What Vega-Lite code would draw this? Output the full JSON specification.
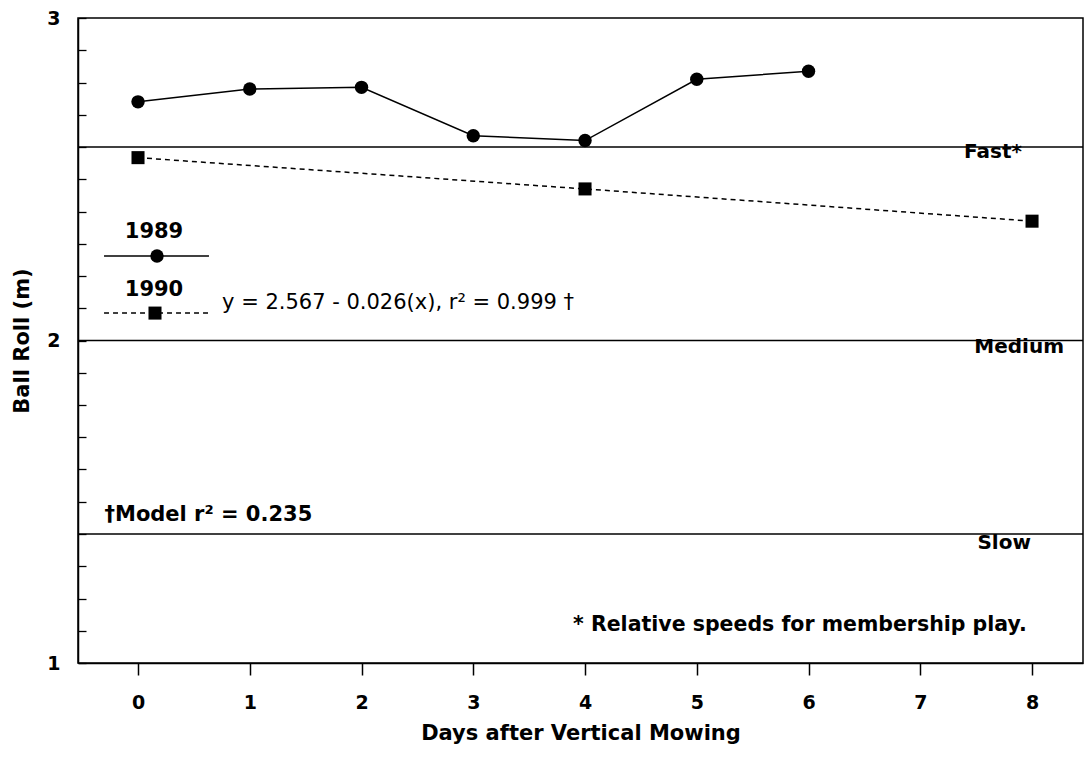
{
  "$schema": "https://vega.github.io/schema/vega-lite/v6.json",
  "width": 1005,
  "height": 645,
  "autosize": {"type": "none"},
  "padding": {"left": 78, "top": 18, "right": 4, "bottom": 96},
  "background": "white",
  "config": {
    "view": {"stroke": "black", "strokeWidth": 1.5},
    "font": "DejaVu Sans",
    "text": {"font": "DejaVu Sans", "color": "black"}
  },
  "datasets": {
    "rolls": [
      {"day": 0, "roll": 2.74, "year": "1989"},
      {"day": 1, "roll": 2.78, "year": "1989"},
      {"day": 2, "roll": 2.785, "year": "1989"},
      {"day": 3, "roll": 2.635, "year": "1989"},
      {"day": 4, "roll": 2.62, "year": "1989"},
      {"day": 5, "roll": 2.81, "year": "1989"},
      {"day": 6, "roll": 2.835, "year": "1989"},
      {"day": 0, "roll": 2.567, "year": "1990"},
      {"day": 4, "roll": 2.47, "year": "1990"},
      {"day": 8, "roll": 2.37, "year": "1990"}
    ],
    "speeds": [
      {"speed": "Fast*", "roll": 2.6},
      {"speed": "Medium", "roll": 2.0},
      {"speed": "Slow", "roll": 1.4}
    ]
  },
  "layer": [
    {
      "data": {"name": "rolls"},
      "transform": [{"filter": "datum.year == '1989'"}],
      "mark": {"type": "line", "color": "black", "strokeWidth": 1.5},
      "encoding": {
        "x": {
          "field": "day", "type": "quantitative",
          "scale": {"domain": [-0.537, 8.456], "nice": false, "zero": false},
          "axis": {
            "title": "Days after Vertical Mowing",
            "values": [0, 1, 2, 3, 4, 5, 6, 7, 8],
            "tickCount": 100,
            "format": "d",
            "grid": false,
            "domainColor": "black", "domainWidth": 1.5,
            "tickColor": "black", "tickWidth": 1.5, "tickSize": 12,
            "labelColor": "black", "labelFont": "DejaVu Sans", "labelFontWeight": "bold", "labelFontSize": 19,
            "labelPadding": 18,
            "titleColor": "black", "titleFont": "DejaVu Sans", "titleFontWeight": "bold", "titleFontSize": 21,
            "titlePadding": 10
          }
        },
        "y": {
          "field": "roll", "type": "quantitative",
          "scale": {"domain": [1, 3], "nice": false, "zero": false},
          "axis": {
            "title": "Ball Roll (m)",
            "values": [1, 1.1, 1.2, 1.3, 1.4, 1.5, 1.6, 1.7, 1.8, 1.9, 2, 2.1, 2.2, 2.3, 2.4, 2.5, 2.6, 2.7, 2.8, 2.9, 3],
            "tickCount": 100,
            "labelExpr": "(datum.value == 1 || datum.value == 2 || datum.value == 3) ? format(datum.value, 'd') : ''",
            "labelOverlap": false,
            "grid": false,
            "domainColor": "black", "domainWidth": 1.5,
            "tickColor": "black", "tickWidth": 1.3, "tickSize": -8,
            "labelColor": "black", "labelFont": "DejaVu Sans", "labelFontWeight": "bold", "labelFontSize": 19,
            "labelPadding": 26,
            "titleColor": "black", "titleFont": "DejaVu Sans", "titleFontWeight": "bold", "titleFontSize": 21,
            "titlePadding": 14
          }
        }
      }
    },
    {
      "data": {"name": "rolls"},
      "transform": [{"filter": "datum.year == '1990'"}],
      "mark": {"type": "line", "color": "black", "strokeWidth": 1.5, "strokeDash": [5, 4]},
      "encoding": {
        "x": {"field": "day", "type": "quantitative"},
        "y": {"field": "roll", "type": "quantitative"}
      }
    },
    {
      "data": {"name": "rolls"},
      "transform": [{"filter": "datum.year == '1989'"}],
      "mark": {"type": "point", "shape": "circle", "filled": true, "color": "black", "size": 180, "opacity": 1},
      "encoding": {
        "x": {"field": "day", "type": "quantitative"},
        "y": {"field": "roll", "type": "quantitative"}
      }
    },
    {
      "data": {"name": "rolls"},
      "transform": [{"filter": "datum.year == '1990'"}],
      "mark": {"type": "point", "shape": "square", "filled": true, "color": "black", "size": 170, "opacity": 1},
      "encoding": {
        "x": {"field": "day", "type": "quantitative"},
        "y": {"field": "roll", "type": "quantitative"}
      }
    },
    {
      "data": {"name": "speeds"},
      "mark": {"type": "rule", "color": "black", "strokeWidth": 1.5},
      "encoding": {
        "y": {"field": "roll", "type": "quantitative"}
      }
    },
    {
      "data": {"values": [{"label": "Fast*"}]},
      "mark": {"type": "text", "align": "right", "baseline": "middle", "fontSize": 20, "fontWeight": "bold"},
      "encoding": {
        "x": {"datum": 7.91, "type": "quantitative"},
        "y": {"datum": 2.584, "type": "quantitative"},
        "text": {"field": "label"}
      }
    },
    {
      "data": {"values": [{"label": "Medium"}]},
      "mark": {"type": "text", "align": "right", "baseline": "middle", "fontSize": 20, "fontWeight": "bold"},
      "encoding": {
        "x": {"datum": 8.286, "type": "quantitative"},
        "y": {"datum": 1.98, "type": "quantitative"},
        "text": {"field": "label"}
      }
    },
    {
      "data": {"values": [{"label": "Slow"}]},
      "mark": {"type": "text", "align": "right", "baseline": "middle", "fontSize": 20, "fontWeight": "bold"},
      "encoding": {
        "x": {"datum": 7.99, "type": "quantitative"},
        "y": {"datum": 1.372, "type": "quantitative"},
        "text": {"field": "label"}
      }
    },
    {
      "data": {"values": [{"label": "* Relative speeds for membership play."}]},
      "mark": {"type": "text", "align": "left", "baseline": "middle", "fontSize": 20.5, "fontWeight": "bold"},
      "encoding": {
        "x": {"datum": 3.893, "type": "quantitative"},
        "y": {"datum": 1.118, "type": "quantitative"},
        "text": {"field": "label"}
      }
    },
    {
      "data": {"values": [{"label": "†Model r² = 0.235"}]},
      "mark": {"type": "text", "align": "left", "baseline": "middle", "fontSize": 21, "fontWeight": "bold"},
      "encoding": {
        "x": {"datum": -0.3, "type": "quantitative"},
        "y": {"datum": 1.459, "type": "quantitative"},
        "text": {"field": "label"}
      }
    },
    {
      "data": {"values": [{"label": "1989"}]},
      "mark": {"type": "text", "align": "center", "baseline": "middle", "fontSize": 21, "fontWeight": "bold"},
      "encoding": {
        "x": {"datum": 0.143, "type": "quantitative"},
        "y": {"datum": 2.336, "type": "quantitative"},
        "text": {"field": "label"}
      }
    },
    {
      "data": {"values": [{"label": "1990"}]},
      "mark": {"type": "text", "align": "center", "baseline": "middle", "fontSize": 21, "fontWeight": "bold"},
      "encoding": {
        "x": {"datum": 0.143, "type": "quantitative"},
        "y": {"datum": 2.157, "type": "quantitative"},
        "text": {"field": "label"}
      }
    },
    {
      "data": {"values": [{"label": "y = 2.567 - 0.026(x), r² = 0.999 †"}]},
      "mark": {"type": "text", "align": "left", "baseline": "middle", "fontSize": 21},
      "encoding": {
        "x": {"datum": 0.752, "type": "quantitative"},
        "y": {"datum": 2.116, "type": "quantitative"},
        "text": {"field": "label"}
      }
    },
    {
      "data": {"values": [{"series": "1989"}]},
      "mark": {"type": "rule", "color": "black", "strokeWidth": 1.5},
      "encoding": {
        "x": {"datum": -0.304, "type": "quantitative"},
        "x2": {"datum": 0.635},
        "y": {"datum": 2.262, "type": "quantitative"}
      }
    },
    {
      "data": {"values": [{"series": "1990"}]},
      "mark": {"type": "rule", "color": "black", "strokeWidth": 1.5, "strokeDash": [5, 4]},
      "encoding": {
        "x": {"datum": -0.304, "type": "quantitative"},
        "x2": {"datum": 0.635},
        "y": {"datum": 2.085, "type": "quantitative"}
      }
    },
    {
      "data": {"values": [{"series": "1989"}]},
      "mark": {"type": "point", "shape": "circle", "filled": true, "color": "black", "size": 180, "opacity": 1},
      "encoding": {
        "x": {"datum": 0.17, "type": "quantitative"},
        "y": {"datum": 2.262, "type": "quantitative"}
      }
    },
    {
      "data": {"values": [{"series": "1990"}]},
      "mark": {"type": "point", "shape": "square", "filled": true, "color": "black", "size": 170, "opacity": 1},
      "encoding": {
        "x": {"datum": 0.152, "type": "quantitative"},
        "y": {"datum": 2.085, "type": "quantitative"}
      }
    }
  ]
}
